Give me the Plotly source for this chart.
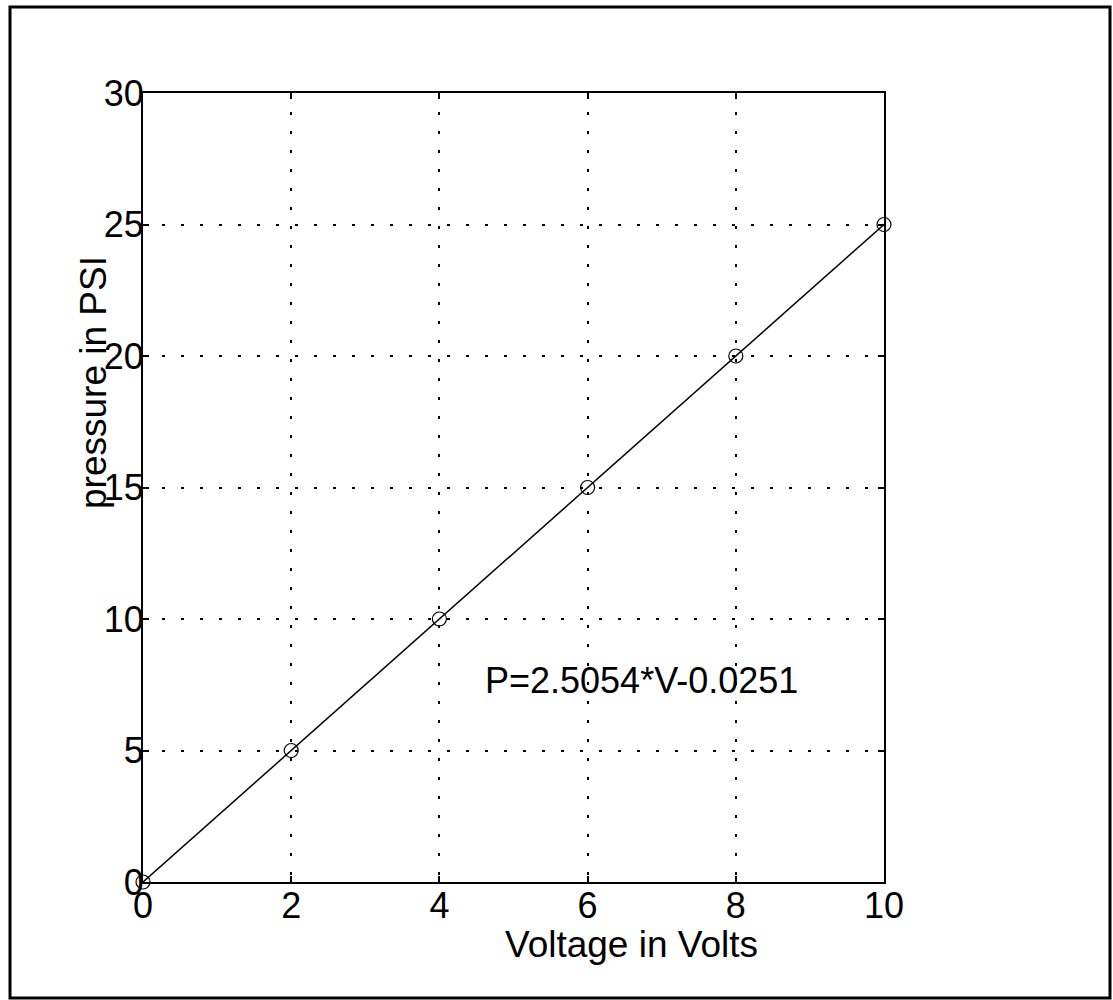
import plotly.graph_objects as go

voltage = [0, 2, 4, 6, 8, 10]
pressure = [0, 5, 10, 15, 20, 25]
x_ticks = [0, 2, 4, 6, 8, 10]
y_ticks = [0, 5, 10, 15, 20, 25, 30]
fit_label = "P=2.5054*V-0.0251"
x_title = "Voltage in Volts"
y_title = "pressure in PSI"

W, H = 1113, 1000
L, R, T, B = 143, 884, 93, 882

FONT = "Liberation Sans, Arial, Helvetica, sans-serif"
FS = 37

fig = go.Figure()
fig.add_trace(go.Scatter(
    x=voltage, y=pressure, mode="lines+markers",
    line=dict(color="black", width=1.5),
    marker=dict(symbol="circle-open", size=14, color="black", line=dict(width=1.2)),
    showlegend=False, cliponaxis=False,
))

axis_common = dict(
    showline=True, linecolor="black", linewidth=2, mirror="ticks",
    ticks="inside", ticklen=6, tickcolor="black", tickwidth=1.5,
    showgrid=True, gridcolor="black", gridwidth=1.5, griddash="3px,16px",
    zeroline=False, tickfont=dict(family=FONT, size=36, color="black"),
)

fig.update_xaxes(range=[0, 10], tickvals=x_ticks, ticklabelstandoff=-9, **axis_common)
fig.update_yaxes(range=[0, 30], tickvals=y_ticks, ticklabelstandoff=-10, **axis_common)

pw, ph = R - L, B - T
def px(xp):
    return (xp - L) / pw
def py(yp):
    return (B - yp) / ph

fig.add_annotation(x=px(631), y=py(944), xref="paper", yref="paper", text=x_title,
                   showarrow=False, xanchor="center", yanchor="middle",
                   font=dict(family=FONT, size=FS, color="black"))
fig.add_annotation(x=px(93), y=py(383), xref="paper", yref="paper", text=y_title,
                   showarrow=False, textangle=-90, xanchor="center", yanchor="middle",
                   font=dict(family=FONT, size=FS, color="black"))
fig.add_annotation(x=px(641), y=py(680), xref="paper", yref="paper", text=fit_label,
                   showarrow=False, xanchor="center", yanchor="middle",
                   font=dict(family=FONT, size=36, color="black"))

fig.add_shape(type="rect", xref="paper", yref="paper",
              x0=px(10), x1=px(1110), y0=py(998), y1=py(7),
              line=dict(color="black", width=3), layer="above")

fig.update_layout(
    width=W, height=H,
    margin=dict(l=L, r=W - R, t=T, b=H - B),
    paper_bgcolor="white", plot_bgcolor="white",
    font=dict(family=FONT, color="black"),
)

fig.write_html("out.html")
